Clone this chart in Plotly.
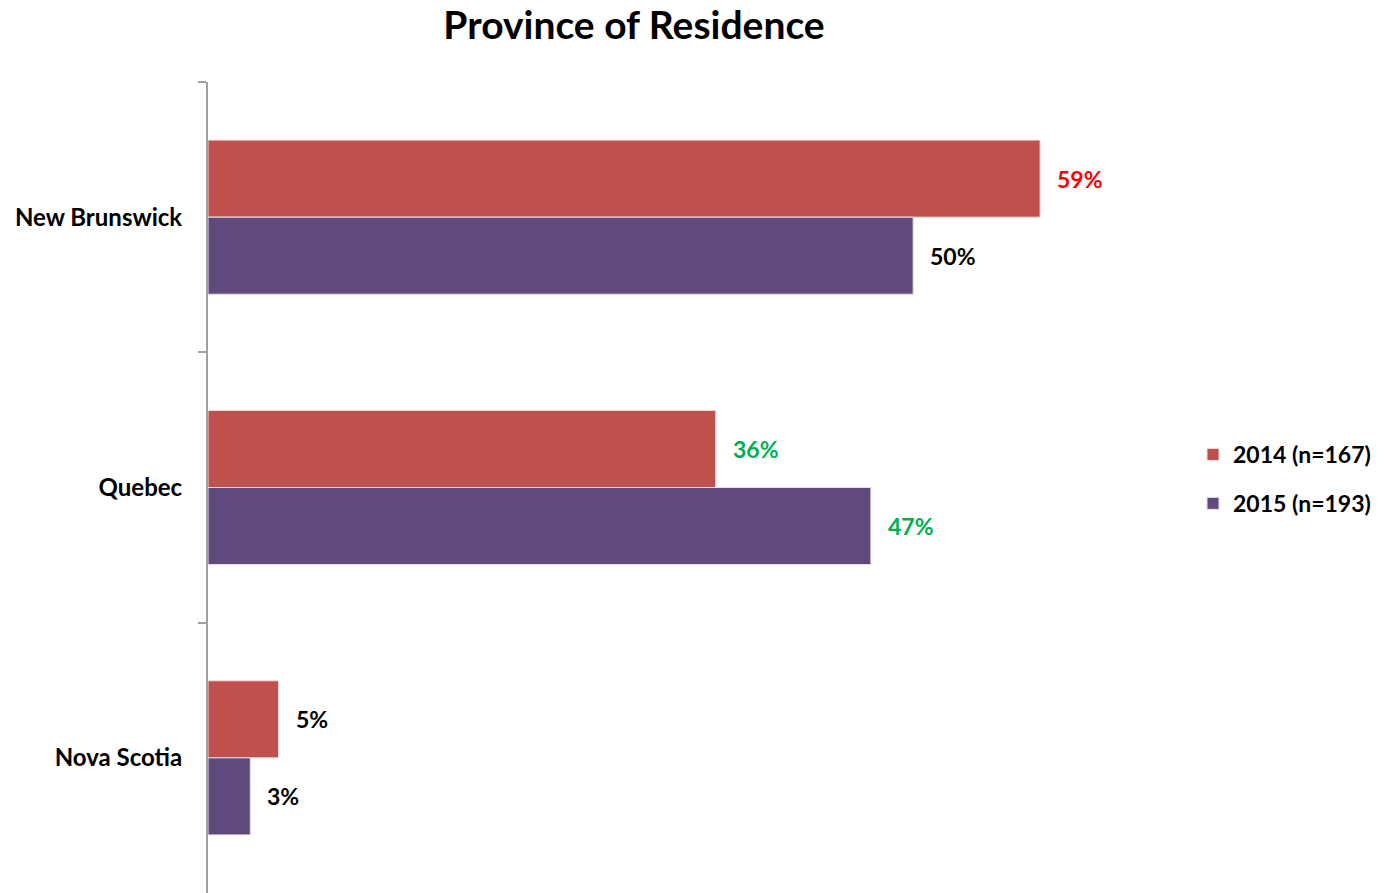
import plotly.graph_objects as go

provinces = ["New Brunswick", "Quebec", "Nova Scotia"]
pct_2014 = [59, 36, 5]
pct_2015 = [50, 47, 3]
label_colors_2014 = ["#FF0000", "#00B050", "#000000"]
label_colors_2015 = ["#000000", "#00B050", "#000000"]
series_names = ["2014 (n=167)", "2015 (n=193)"]

FONT = "Lato"
W, H = 1384, 893
L, T = 208, 82
X_MAX = 68
PLOT_W = 959
PLOT_H = H - T

fig = go.Figure()
fig.add_trace(go.Bar(
    y=provinces, x=pct_2014, orientation="h", name=series_names[0],
    marker=dict(color="#C0504D", line=dict(color="#F2DCDB", width=1)),
    legendgroup="a",
))
fig.add_trace(go.Bar(
    y=provinces, x=pct_2015, orientation="h", name=series_names[1],
    marker=dict(color="#604A7B", line=dict(color="#E4DFEC", width=1)),
    legendgroup="b",
))

# value labels just right of each bar end
half = PLOT_H / 3 * (1 - 0.43) / 4
for vals, cols, shift in ((pct_2014, label_colors_2014, half), (pct_2015, label_colors_2015, -half)):
    for p, v, c in zip(provinces, vals, cols):
        fig.add_annotation(
            x=v, y=p, xref="x", yref="y", text=f"<b>{v}%</b>",
            showarrow=False, xanchor="left", yanchor="middle",
            xshift=15, yshift=shift,
            font=dict(family=FONT, size=23, color=c),
        )

fig.update_layout(
    width=W, height=H,
    margin=dict(l=L, t=T, b=0, r=W - L - PLOT_W, pad=0),
    paper_bgcolor="white", plot_bgcolor="white",
    barmode="group", bargap=0.43, bargroupgap=0,
    title=dict(
        text="<b>Province of Residence</b>",
        x=634 / W, xref="container", xanchor="center",
        y=1 - 25 / H, yref="container", yanchor="middle",
        font=dict(family=FONT, size=39, color="#000000"),
    ),
    xaxis=dict(range=[0, X_MAX], visible=False, fixedrange=True),
    yaxis=dict(
        autorange="reversed", type="category",
        showline=True, linecolor="#A0A0A0", linewidth=2,
        ticks="outside", ticklen=8, tickcolor="#A0A0A0", tickwidth=2,
        tickson="boundaries", showgrid=False,
        tickfont=dict(family=FONT, size=24, color="#000000", weight="bold"),
        ticklabelstandoff=19,
    ),
    legend=dict(
        x=(1193 - L) / PLOT_W, xanchor="left",
        y=1 - (479 - T) / PLOT_H, yanchor="middle",
        font=dict(family=FONT, size=23, color="#000000", weight="bold"),
        traceorder="grouped", tracegroupgap=16,
        itemwidth=30, bgcolor="rgba(0,0,0,0)",
    ),
    showlegend=True,
)

fig.write_html("out.html")
